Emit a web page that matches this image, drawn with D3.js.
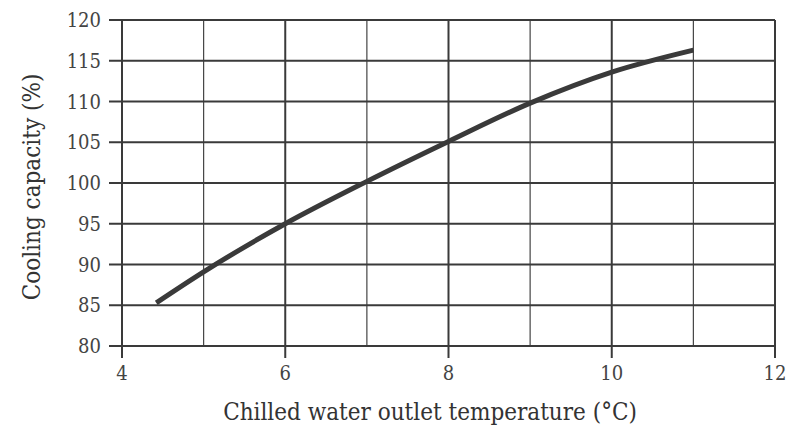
<!DOCTYPE html>
<html>
<head>
<meta charset="utf-8">
<script src="https://cdn.jsdelivr.net/npm/d3@7"></script>
<style>
  body { margin: 0; background: #fff; }
</style>
</head>
<body>
<svg id="chart" width="788" height="428"></svg>
<script>
// Cooling capacity vs chilled water outlet temperature
const temps = [4.42, 5, 6, 7, 8, 9, 10, 11];
const capacity = [85.3, 89.1, 95, 100.2, 105.1, 109.8, 113.6, 116.3];
const xTicks = [4, 6, 8, 10, 12];
const xMinor = [5, 7, 9, 11];
const yTicks = [80, 85, 90, 95, 100, 105, 110, 115, 120];

const width = 788, height = 428;
const margin = { top: 20, right: 13, bottom: 82, left: 122 };
const ink = "#3a3a3a";
const serif = "DejaVu Serif Condensed, DejaVu Serif";

const svg = d3.select("#chart");

const x = d3.scaleLinear()
  .domain([4, 12])
  .range([margin.left, width - margin.right]);

const y = d3.scaleLinear()
  .domain([80, 120])
  .range([height - margin.bottom, margin.top]);

const data = temps.map((t, i) => ({ t, c: capacity[i] }));

const grid = svg.append("g");

// Minor vertical gridlines (odd degrees)
grid.selectAll("line.minor")
  .data(xMinor)
  .join("line")
  .attr("class", "minor")
  .attr("x1", d => x(d)).attr("x2", d => x(d))
  .attr("y1", y(80)).attr("y2", y(120))
  .attr("stroke", "#444")
  .attr("stroke-width", 1.2);

// Major vertical gridlines + ticks below
grid.selectAll("line.major")
  .data(xTicks)
  .join("line")
  .attr("class", "major")
  .attr("x1", d => x(d)).attr("x2", d => x(d))
  .attr("y1", y(120)).attr("y2", y(80) + 12)
  .attr("stroke", ink)
  .attr("stroke-width", 2);

// Horizontal gridlines + ticks left
grid.selectAll("line.h")
  .data(yTicks)
  .join("line")
  .attr("class", "h")
  .attr("x1", x(4) - 13).attr("x2", x(12))
  .attr("y1", d => y(d)).attr("y2", d => y(d))
  .attr("stroke", ink)
  .attr("stroke-width", 2);

// Tick labels
svg.append("g").selectAll("text")
  .data(yTicks)
  .join("text")
  .attr("x", x(4) - 21)
  .attr("y", d => y(d))
  .attr("dy", "0.35em")
  .attr("text-anchor", "end")
  .attr("fill", "#444")
  .attr("font-family", serif)
  .attr("font-size", 20)
  .text(d => d);

svg.append("g").selectAll("text")
  .data(xTicks)
  .join("text")
  .attr("x", d => x(d))
  .attr("y", y(80) + 34)
  .attr("text-anchor", "middle")
  .attr("fill", "#444")
  .attr("font-family", serif)
  .attr("font-size", 20)
  .text(d => d);

// Curve
const line = d3.line()
  .x(d => x(d.t))
  .y(d => y(d.c))
  .curve(d3.curveMonotoneX);

svg.append("path")
  .datum(data)
  .attr("fill", "none")
  .attr("stroke", ink)
  .attr("stroke-width", 5)
  .attr("d", line);

// Axis titles
svg.append("text")
  .attr("x", 430)
  .attr("y", height - 8)
  .attr("text-anchor", "middle")
  .attr("fill", "#333")
  .attr("font-family", serif)
  .attr("font-size", 24)
  .text("Chilled water outlet temperature (°C)");

svg.append("text")
  .attr("transform", "rotate(-90)")
  .attr("x", -187)
  .attr("y", 40)
  .attr("text-anchor", "middle")
  .attr("fill", "#333")
  .attr("font-family", serif)
  .attr("font-size", 24)
  .text("Cooling capacity (%)");
</script>
</body>
</html>
